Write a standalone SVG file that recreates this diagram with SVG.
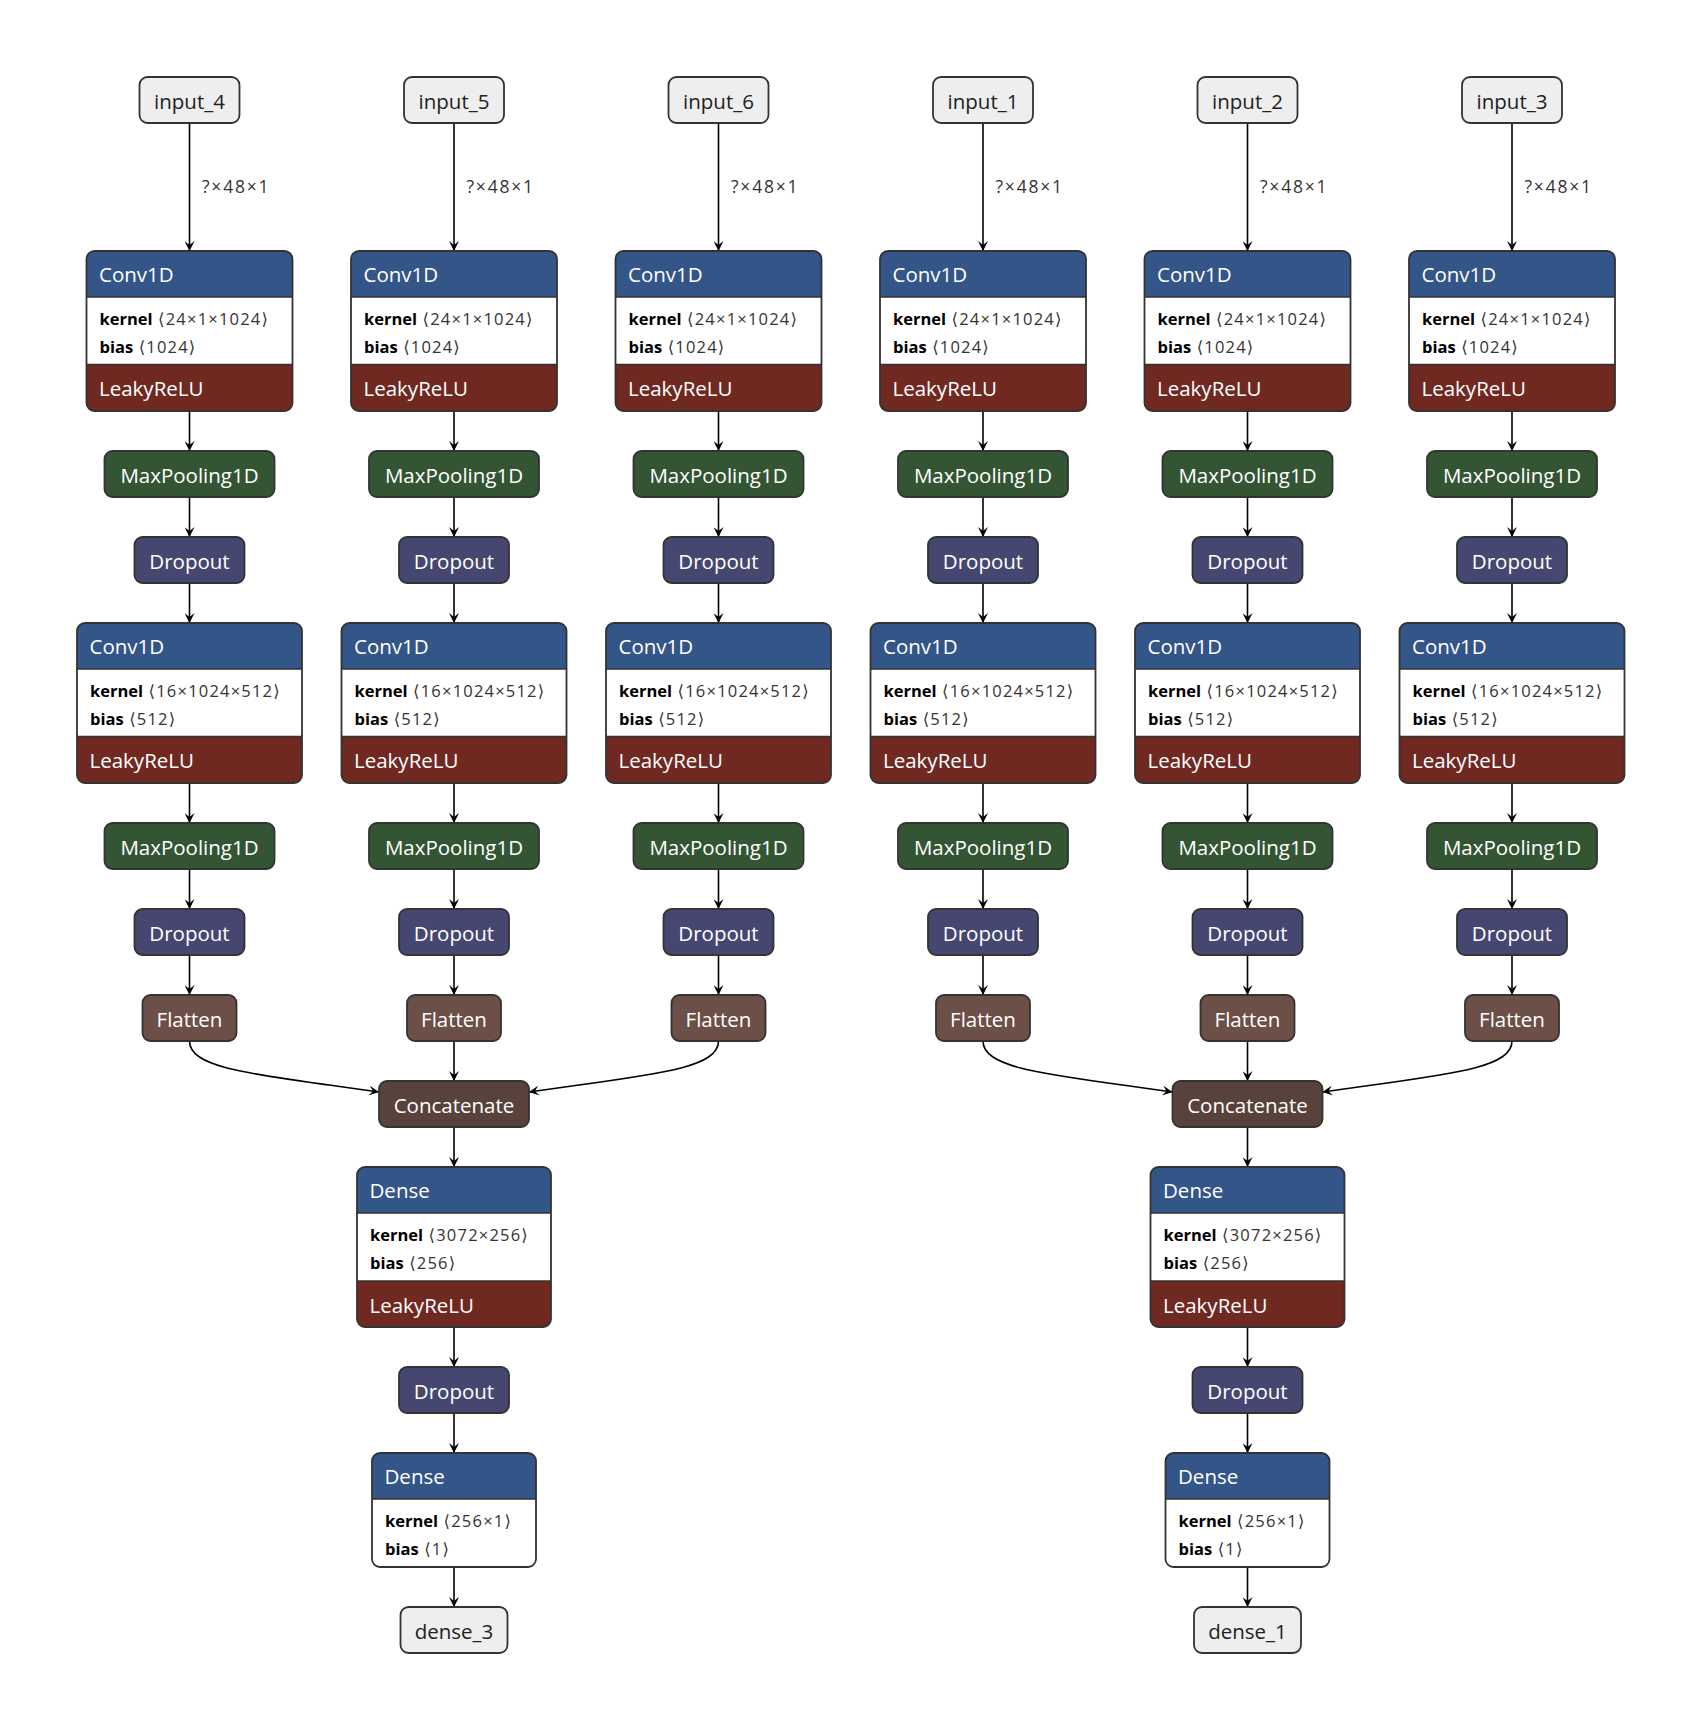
<svg xmlns="http://www.w3.org/2000/svg" width="1702" height="1732" viewBox="0 0 1702 1732">
<defs>
<style>
.box{stroke:#333;stroke-width:1.8}
.io{fill:#eeeeee}
.layer{fill:#335588}
.act{fill:#702921}
.pool{fill:#335533}
.drop{fill:#454770}
.shape{fill:#6c4f47}
.tensor{fill:#59423b}
.white{fill:#ffffff}
.outline{fill:none;stroke:#333;stroke-width:1.8}
.sep{fill:none;stroke:#333;stroke-width:1.5}
.t{font-family:"Open Sans","Noto Sans","DejaVu Sans",sans-serif;font-size:20.5px;fill:#ffffff}
.ti{font-family:"Open Sans","Noto Sans","DejaVu Sans",sans-serif;font-size:20.5px;fill:#222222;text-anchor:middle}
.c{text-anchor:middle}
.a{font-family:"Open Sans","Noto Sans","DejaVu Sans",sans-serif;font-size:16.5px;fill:#333333}
.b{font-weight:bold;fill:#000000;letter-spacing:0}
.v{letter-spacing:1.2px}
.e{fill:none;stroke:#000;stroke-width:1.6;marker-end:url(#arr)}
.lbl{font-family:"Open Sans","Noto Sans","DejaVu Sans",sans-serif;font-size:17.5px;fill:#333333;letter-spacing:1.8px}
</style>
<marker id="arr" viewBox="0 0 10 10" refX="10" refY="5" markerWidth="10" markerHeight="10" markerUnits="userSpaceOnUse" orient="auto"><path d="M0,0 L10,5 L0,10 L4,5 z" fill="#000"/></marker>
</defs>
<rect width="1702" height="1732" fill="#ffffff"/>

<g id="edges">
<path class="e" d="M189.5,123V251"/><path class="e" d="M189.5,411V451"/><path class="e" d="M189.5,497V537"/><path class="e" d="M189.5,583V623"/><path class="e" d="M189.5,783V823"/><path class="e" d="M189.5,869V909"/><path class="e" d="M189.5,955V995"/>
<path class="e" d="M189.5,1041C189.5,1070 260,1075 379,1092"/>
<path class="e" d="M454,123V251"/><path class="e" d="M454,411V451"/><path class="e" d="M454,497V537"/><path class="e" d="M454,583V623"/><path class="e" d="M454,783V823"/><path class="e" d="M454,869V909"/><path class="e" d="M454,955V995"/>
<path class="e" d="M454,1041V1081"/>
<path class="e" d="M718.5,123V251"/><path class="e" d="M718.5,411V451"/><path class="e" d="M718.5,497V537"/><path class="e" d="M718.5,583V623"/><path class="e" d="M718.5,783V823"/><path class="e" d="M718.5,869V909"/><path class="e" d="M718.5,955V995"/>
<path class="e" d="M718.5,1041C718.5,1070 648,1075 529,1092"/>
<path class="e" d="M983,123V251"/><path class="e" d="M983,411V451"/><path class="e" d="M983,497V537"/><path class="e" d="M983,583V623"/><path class="e" d="M983,783V823"/><path class="e" d="M983,869V909"/><path class="e" d="M983,955V995"/>
<path class="e" d="M983,1041C983,1070 1053.5,1075 1172.5,1092"/>
<path class="e" d="M1247.5,123V251"/><path class="e" d="M1247.5,411V451"/><path class="e" d="M1247.5,497V537"/><path class="e" d="M1247.5,583V623"/><path class="e" d="M1247.5,783V823"/><path class="e" d="M1247.5,869V909"/><path class="e" d="M1247.5,955V995"/>
<path class="e" d="M1247.5,1041V1081"/>
<path class="e" d="M1512,123V251"/><path class="e" d="M1512,411V451"/><path class="e" d="M1512,497V537"/><path class="e" d="M1512,583V623"/><path class="e" d="M1512,783V823"/><path class="e" d="M1512,869V909"/><path class="e" d="M1512,955V995"/>
<path class="e" d="M1512,1041C1512,1070 1441.5,1075 1322.5,1092"/>
<path class="e" d="M454,1127V1167"/><path class="e" d="M454,1327V1367"/><path class="e" d="M454,1413V1453"/><path class="e" d="M454,1567V1607"/>
<path class="e" d="M1247.5,1127V1167"/><path class="e" d="M1247.5,1327V1367"/><path class="e" d="M1247.5,1413V1453"/><path class="e" d="M1247.5,1567V1607"/>
<text class="lbl" x="202" y="193">?×48×1</text>
<text class="lbl" x="466.5" y="193">?×48×1</text>
<text class="lbl" x="731" y="193">?×48×1</text>
<text class="lbl" x="995.5" y="193">?×48×1</text>
<text class="lbl" x="1260" y="193">?×48×1</text>
<text class="lbl" x="1524.5" y="193">?×48×1</text>
</g>

<g id="input_4" transform="translate(189.5,77)"><rect class="box io" x="-50" y="0" width="100" height="46" rx="8"/><text class="ti" x="0" y="31.5">input_4</text></g>
<g id="conv1d_a_1" transform="translate(189.5,251)">
<path class="layer" d="M-103,46V8a8,8 0 0 1 8,-8H95a8,8 0 0 1 8,8V46Z"/><rect class="white" x="-103" y="46" width="206" height="67.5"/><path class="act" d="M-103,113.5H103V152a8,8 0 0 1 -8,8H-95a8,8 0 0 1 -8,-8Z"/>
<rect class="outline" x="-103" y="0" width="206" height="160" rx="8"/><path class="sep" d="M-103,46H103M-103,113.5H103"/>
<text class="t" x="-90.5" y="31">Conv1D</text>
<text class="a" x="-90" y="73.5"><tspan class="b">kernel</tspan><tspan class="v"> ⟨24×1×1024⟩</tspan></text>
<text class="a" x="-90" y="101.5"><tspan class="b">bias</tspan><tspan class="v"> ⟨1024⟩</tspan></text>
<text class="t" x="-90.5" y="145">LeakyReLU</text>
</g>
<g id="maxpool_a_1" transform="translate(189.5,451)"><rect class="box pool" x="-85" y="0" width="170" height="46" rx="8"/><text class="t c" x="0" y="31.5">MaxPooling1D</text></g>
<g id="dropout_a_1" transform="translate(189.5,537)"><rect class="box drop" x="-55" y="0" width="110" height="46" rx="8"/><text class="t c" x="0" y="31.5">Dropout</text></g>
<g id="conv1d_b_1" transform="translate(189.5,623)">
<path class="layer" d="M-112.5,46V8a8,8 0 0 1 8,-8H104.5a8,8 0 0 1 8,8V46Z"/><rect class="white" x="-112.5" y="46" width="225" height="67.5"/><path class="act" d="M-112.5,113.5H112.5V152a8,8 0 0 1 -8,8H-104.5a8,8 0 0 1 -8,-8Z"/>
<rect class="outline" x="-112.5" y="0" width="225" height="160" rx="8"/><path class="sep" d="M-112.5,46H112.5M-112.5,113.5H112.5"/>
<text class="t" x="-100" y="31">Conv1D</text>
<text class="a" x="-99.5" y="73.5"><tspan class="b">kernel</tspan><tspan class="v"> ⟨16×1024×512⟩</tspan></text>
<text class="a" x="-99.5" y="101.5"><tspan class="b">bias</tspan><tspan class="v"> ⟨512⟩</tspan></text>
<text class="t" x="-100" y="145">LeakyReLU</text>
</g>
<g id="maxpool_b_1" transform="translate(189.5,823)"><rect class="box pool" x="-85" y="0" width="170" height="46" rx="8"/><text class="t c" x="0" y="31.5">MaxPooling1D</text></g>
<g id="dropout_b_1" transform="translate(189.5,909)"><rect class="box drop" x="-55" y="0" width="110" height="46" rx="8"/><text class="t c" x="0" y="31.5">Dropout</text></g>
<g id="flatten_1" transform="translate(189.5,995)"><rect class="box shape" x="-47" y="0" width="94" height="46" rx="8"/><text class="t c" x="0" y="31.5">Flatten</text></g>

<g id="input_5" transform="translate(454,77)"><rect class="box io" x="-50" y="0" width="100" height="46" rx="8"/><text class="ti" x="0" y="31.5">input_5</text></g>
<g id="conv1d_a_2" transform="translate(454,251)">
<path class="layer" d="M-103,46V8a8,8 0 0 1 8,-8H95a8,8 0 0 1 8,8V46Z"/><rect class="white" x="-103" y="46" width="206" height="67.5"/><path class="act" d="M-103,113.5H103V152a8,8 0 0 1 -8,8H-95a8,8 0 0 1 -8,-8Z"/>
<rect class="outline" x="-103" y="0" width="206" height="160" rx="8"/><path class="sep" d="M-103,46H103M-103,113.5H103"/>
<text class="t" x="-90.5" y="31">Conv1D</text>
<text class="a" x="-90" y="73.5"><tspan class="b">kernel</tspan><tspan class="v"> ⟨24×1×1024⟩</tspan></text>
<text class="a" x="-90" y="101.5"><tspan class="b">bias</tspan><tspan class="v"> ⟨1024⟩</tspan></text>
<text class="t" x="-90.5" y="145">LeakyReLU</text>
</g>
<g id="maxpool_a_2" transform="translate(454,451)"><rect class="box pool" x="-85" y="0" width="170" height="46" rx="8"/><text class="t c" x="0" y="31.5">MaxPooling1D</text></g>
<g id="dropout_a_2" transform="translate(454,537)"><rect class="box drop" x="-55" y="0" width="110" height="46" rx="8"/><text class="t c" x="0" y="31.5">Dropout</text></g>
<g id="conv1d_b_2" transform="translate(454,623)">
<path class="layer" d="M-112.5,46V8a8,8 0 0 1 8,-8H104.5a8,8 0 0 1 8,8V46Z"/><rect class="white" x="-112.5" y="46" width="225" height="67.5"/><path class="act" d="M-112.5,113.5H112.5V152a8,8 0 0 1 -8,8H-104.5a8,8 0 0 1 -8,-8Z"/>
<rect class="outline" x="-112.5" y="0" width="225" height="160" rx="8"/><path class="sep" d="M-112.5,46H112.5M-112.5,113.5H112.5"/>
<text class="t" x="-100" y="31">Conv1D</text>
<text class="a" x="-99.5" y="73.5"><tspan class="b">kernel</tspan><tspan class="v"> ⟨16×1024×512⟩</tspan></text>
<text class="a" x="-99.5" y="101.5"><tspan class="b">bias</tspan><tspan class="v"> ⟨512⟩</tspan></text>
<text class="t" x="-100" y="145">LeakyReLU</text>
</g>
<g id="maxpool_b_2" transform="translate(454,823)"><rect class="box pool" x="-85" y="0" width="170" height="46" rx="8"/><text class="t c" x="0" y="31.5">MaxPooling1D</text></g>
<g id="dropout_b_2" transform="translate(454,909)"><rect class="box drop" x="-55" y="0" width="110" height="46" rx="8"/><text class="t c" x="0" y="31.5">Dropout</text></g>
<g id="flatten_2" transform="translate(454,995)"><rect class="box shape" x="-47" y="0" width="94" height="46" rx="8"/><text class="t c" x="0" y="31.5">Flatten</text></g>

<g id="input_6" transform="translate(718.5,77)"><rect class="box io" x="-50" y="0" width="100" height="46" rx="8"/><text class="ti" x="0" y="31.5">input_6</text></g>
<g id="conv1d_a_3" transform="translate(718.5,251)">
<path class="layer" d="M-103,46V8a8,8 0 0 1 8,-8H95a8,8 0 0 1 8,8V46Z"/><rect class="white" x="-103" y="46" width="206" height="67.5"/><path class="act" d="M-103,113.5H103V152a8,8 0 0 1 -8,8H-95a8,8 0 0 1 -8,-8Z"/>
<rect class="outline" x="-103" y="0" width="206" height="160" rx="8"/><path class="sep" d="M-103,46H103M-103,113.5H103"/>
<text class="t" x="-90.5" y="31">Conv1D</text>
<text class="a" x="-90" y="73.5"><tspan class="b">kernel</tspan><tspan class="v"> ⟨24×1×1024⟩</tspan></text>
<text class="a" x="-90" y="101.5"><tspan class="b">bias</tspan><tspan class="v"> ⟨1024⟩</tspan></text>
<text class="t" x="-90.5" y="145">LeakyReLU</text>
</g>
<g id="maxpool_a_3" transform="translate(718.5,451)"><rect class="box pool" x="-85" y="0" width="170" height="46" rx="8"/><text class="t c" x="0" y="31.5">MaxPooling1D</text></g>
<g id="dropout_a_3" transform="translate(718.5,537)"><rect class="box drop" x="-55" y="0" width="110" height="46" rx="8"/><text class="t c" x="0" y="31.5">Dropout</text></g>
<g id="conv1d_b_3" transform="translate(718.5,623)">
<path class="layer" d="M-112.5,46V8a8,8 0 0 1 8,-8H104.5a8,8 0 0 1 8,8V46Z"/><rect class="white" x="-112.5" y="46" width="225" height="67.5"/><path class="act" d="M-112.5,113.5H112.5V152a8,8 0 0 1 -8,8H-104.5a8,8 0 0 1 -8,-8Z"/>
<rect class="outline" x="-112.5" y="0" width="225" height="160" rx="8"/><path class="sep" d="M-112.5,46H112.5M-112.5,113.5H112.5"/>
<text class="t" x="-100" y="31">Conv1D</text>
<text class="a" x="-99.5" y="73.5"><tspan class="b">kernel</tspan><tspan class="v"> ⟨16×1024×512⟩</tspan></text>
<text class="a" x="-99.5" y="101.5"><tspan class="b">bias</tspan><tspan class="v"> ⟨512⟩</tspan></text>
<text class="t" x="-100" y="145">LeakyReLU</text>
</g>
<g id="maxpool_b_3" transform="translate(718.5,823)"><rect class="box pool" x="-85" y="0" width="170" height="46" rx="8"/><text class="t c" x="0" y="31.5">MaxPooling1D</text></g>
<g id="dropout_b_3" transform="translate(718.5,909)"><rect class="box drop" x="-55" y="0" width="110" height="46" rx="8"/><text class="t c" x="0" y="31.5">Dropout</text></g>
<g id="flatten_3" transform="translate(718.5,995)"><rect class="box shape" x="-47" y="0" width="94" height="46" rx="8"/><text class="t c" x="0" y="31.5">Flatten</text></g>

<g id="input_1" transform="translate(983,77)"><rect class="box io" x="-50" y="0" width="100" height="46" rx="8"/><text class="ti" x="0" y="31.5">input_1</text></g>
<g id="conv1d_a_4" transform="translate(983,251)">
<path class="layer" d="M-103,46V8a8,8 0 0 1 8,-8H95a8,8 0 0 1 8,8V46Z"/><rect class="white" x="-103" y="46" width="206" height="67.5"/><path class="act" d="M-103,113.5H103V152a8,8 0 0 1 -8,8H-95a8,8 0 0 1 -8,-8Z"/>
<rect class="outline" x="-103" y="0" width="206" height="160" rx="8"/><path class="sep" d="M-103,46H103M-103,113.5H103"/>
<text class="t" x="-90.5" y="31">Conv1D</text>
<text class="a" x="-90" y="73.5"><tspan class="b">kernel</tspan><tspan class="v"> ⟨24×1×1024⟩</tspan></text>
<text class="a" x="-90" y="101.5"><tspan class="b">bias</tspan><tspan class="v"> ⟨1024⟩</tspan></text>
<text class="t" x="-90.5" y="145">LeakyReLU</text>
</g>
<g id="maxpool_a_4" transform="translate(983,451)"><rect class="box pool" x="-85" y="0" width="170" height="46" rx="8"/><text class="t c" x="0" y="31.5">MaxPooling1D</text></g>
<g id="dropout_a_4" transform="translate(983,537)"><rect class="box drop" x="-55" y="0" width="110" height="46" rx="8"/><text class="t c" x="0" y="31.5">Dropout</text></g>
<g id="conv1d_b_4" transform="translate(983,623)">
<path class="layer" d="M-112.5,46V8a8,8 0 0 1 8,-8H104.5a8,8 0 0 1 8,8V46Z"/><rect class="white" x="-112.5" y="46" width="225" height="67.5"/><path class="act" d="M-112.5,113.5H112.5V152a8,8 0 0 1 -8,8H-104.5a8,8 0 0 1 -8,-8Z"/>
<rect class="outline" x="-112.5" y="0" width="225" height="160" rx="8"/><path class="sep" d="M-112.5,46H112.5M-112.5,113.5H112.5"/>
<text class="t" x="-100" y="31">Conv1D</text>
<text class="a" x="-99.5" y="73.5"><tspan class="b">kernel</tspan><tspan class="v"> ⟨16×1024×512⟩</tspan></text>
<text class="a" x="-99.5" y="101.5"><tspan class="b">bias</tspan><tspan class="v"> ⟨512⟩</tspan></text>
<text class="t" x="-100" y="145">LeakyReLU</text>
</g>
<g id="maxpool_b_4" transform="translate(983,823)"><rect class="box pool" x="-85" y="0" width="170" height="46" rx="8"/><text class="t c" x="0" y="31.5">MaxPooling1D</text></g>
<g id="dropout_b_4" transform="translate(983,909)"><rect class="box drop" x="-55" y="0" width="110" height="46" rx="8"/><text class="t c" x="0" y="31.5">Dropout</text></g>
<g id="flatten_4" transform="translate(983,995)"><rect class="box shape" x="-47" y="0" width="94" height="46" rx="8"/><text class="t c" x="0" y="31.5">Flatten</text></g>

<g id="input_2" transform="translate(1247.5,77)"><rect class="box io" x="-50" y="0" width="100" height="46" rx="8"/><text class="ti" x="0" y="31.5">input_2</text></g>
<g id="conv1d_a_5" transform="translate(1247.5,251)">
<path class="layer" d="M-103,46V8a8,8 0 0 1 8,-8H95a8,8 0 0 1 8,8V46Z"/><rect class="white" x="-103" y="46" width="206" height="67.5"/><path class="act" d="M-103,113.5H103V152a8,8 0 0 1 -8,8H-95a8,8 0 0 1 -8,-8Z"/>
<rect class="outline" x="-103" y="0" width="206" height="160" rx="8"/><path class="sep" d="M-103,46H103M-103,113.5H103"/>
<text class="t" x="-90.5" y="31">Conv1D</text>
<text class="a" x="-90" y="73.5"><tspan class="b">kernel</tspan><tspan class="v"> ⟨24×1×1024⟩</tspan></text>
<text class="a" x="-90" y="101.5"><tspan class="b">bias</tspan><tspan class="v"> ⟨1024⟩</tspan></text>
<text class="t" x="-90.5" y="145">LeakyReLU</text>
</g>
<g id="maxpool_a_5" transform="translate(1247.5,451)"><rect class="box pool" x="-85" y="0" width="170" height="46" rx="8"/><text class="t c" x="0" y="31.5">MaxPooling1D</text></g>
<g id="dropout_a_5" transform="translate(1247.5,537)"><rect class="box drop" x="-55" y="0" width="110" height="46" rx="8"/><text class="t c" x="0" y="31.5">Dropout</text></g>
<g id="conv1d_b_5" transform="translate(1247.5,623)">
<path class="layer" d="M-112.5,46V8a8,8 0 0 1 8,-8H104.5a8,8 0 0 1 8,8V46Z"/><rect class="white" x="-112.5" y="46" width="225" height="67.5"/><path class="act" d="M-112.5,113.5H112.5V152a8,8 0 0 1 -8,8H-104.5a8,8 0 0 1 -8,-8Z"/>
<rect class="outline" x="-112.5" y="0" width="225" height="160" rx="8"/><path class="sep" d="M-112.5,46H112.5M-112.5,113.5H112.5"/>
<text class="t" x="-100" y="31">Conv1D</text>
<text class="a" x="-99.5" y="73.5"><tspan class="b">kernel</tspan><tspan class="v"> ⟨16×1024×512⟩</tspan></text>
<text class="a" x="-99.5" y="101.5"><tspan class="b">bias</tspan><tspan class="v"> ⟨512⟩</tspan></text>
<text class="t" x="-100" y="145">LeakyReLU</text>
</g>
<g id="maxpool_b_5" transform="translate(1247.5,823)"><rect class="box pool" x="-85" y="0" width="170" height="46" rx="8"/><text class="t c" x="0" y="31.5">MaxPooling1D</text></g>
<g id="dropout_b_5" transform="translate(1247.5,909)"><rect class="box drop" x="-55" y="0" width="110" height="46" rx="8"/><text class="t c" x="0" y="31.5">Dropout</text></g>
<g id="flatten_5" transform="translate(1247.5,995)"><rect class="box shape" x="-47" y="0" width="94" height="46" rx="8"/><text class="t c" x="0" y="31.5">Flatten</text></g>

<g id="input_3" transform="translate(1512,77)"><rect class="box io" x="-50" y="0" width="100" height="46" rx="8"/><text class="ti" x="0" y="31.5">input_3</text></g>
<g id="conv1d_a_6" transform="translate(1512,251)">
<path class="layer" d="M-103,46V8a8,8 0 0 1 8,-8H95a8,8 0 0 1 8,8V46Z"/><rect class="white" x="-103" y="46" width="206" height="67.5"/><path class="act" d="M-103,113.5H103V152a8,8 0 0 1 -8,8H-95a8,8 0 0 1 -8,-8Z"/>
<rect class="outline" x="-103" y="0" width="206" height="160" rx="8"/><path class="sep" d="M-103,46H103M-103,113.5H103"/>
<text class="t" x="-90.5" y="31">Conv1D</text>
<text class="a" x="-90" y="73.5"><tspan class="b">kernel</tspan><tspan class="v"> ⟨24×1×1024⟩</tspan></text>
<text class="a" x="-90" y="101.5"><tspan class="b">bias</tspan><tspan class="v"> ⟨1024⟩</tspan></text>
<text class="t" x="-90.5" y="145">LeakyReLU</text>
</g>
<g id="maxpool_a_6" transform="translate(1512,451)"><rect class="box pool" x="-85" y="0" width="170" height="46" rx="8"/><text class="t c" x="0" y="31.5">MaxPooling1D</text></g>
<g id="dropout_a_6" transform="translate(1512,537)"><rect class="box drop" x="-55" y="0" width="110" height="46" rx="8"/><text class="t c" x="0" y="31.5">Dropout</text></g>
<g id="conv1d_b_6" transform="translate(1512,623)">
<path class="layer" d="M-112.5,46V8a8,8 0 0 1 8,-8H104.5a8,8 0 0 1 8,8V46Z"/><rect class="white" x="-112.5" y="46" width="225" height="67.5"/><path class="act" d="M-112.5,113.5H112.5V152a8,8 0 0 1 -8,8H-104.5a8,8 0 0 1 -8,-8Z"/>
<rect class="outline" x="-112.5" y="0" width="225" height="160" rx="8"/><path class="sep" d="M-112.5,46H112.5M-112.5,113.5H112.5"/>
<text class="t" x="-100" y="31">Conv1D</text>
<text class="a" x="-99.5" y="73.5"><tspan class="b">kernel</tspan><tspan class="v"> ⟨16×1024×512⟩</tspan></text>
<text class="a" x="-99.5" y="101.5"><tspan class="b">bias</tspan><tspan class="v"> ⟨512⟩</tspan></text>
<text class="t" x="-100" y="145">LeakyReLU</text>
</g>
<g id="maxpool_b_6" transform="translate(1512,823)"><rect class="box pool" x="-85" y="0" width="170" height="46" rx="8"/><text class="t c" x="0" y="31.5">MaxPooling1D</text></g>
<g id="dropout_b_6" transform="translate(1512,909)"><rect class="box drop" x="-55" y="0" width="110" height="46" rx="8"/><text class="t c" x="0" y="31.5">Dropout</text></g>
<g id="flatten_6" transform="translate(1512,995)"><rect class="box shape" x="-47" y="0" width="94" height="46" rx="8"/><text class="t c" x="0" y="31.5">Flatten</text></g>

<g id="concat_L" transform="translate(454,1081)"><rect class="box tensor" x="-75" y="0" width="150" height="46" rx="8"/><text class="t c" x="0" y="31.5">Concatenate</text></g>
<g id="dense_a_L" transform="translate(454,1167)">
<path class="layer" d="M-97,46V8a8,8 0 0 1 8,-8H89a8,8 0 0 1 8,8V46Z"/><rect class="white" x="-97" y="46" width="194" height="68"/><path class="act" d="M-97,114H97V152a8,8 0 0 1 -8,8H-89a8,8 0 0 1 -8,-8Z"/>
<rect class="outline" x="-97" y="0" width="194" height="160" rx="8"/><path class="sep" d="M-97,46H97M-97,114H97"/>
<text class="t" x="-84.5" y="31">Dense</text>
<text class="a" x="-84" y="73.5"><tspan class="b">kernel</tspan><tspan class="v"> ⟨3072×256⟩</tspan></text>
<text class="a" x="-84" y="101.5"><tspan class="b">bias</tspan><tspan class="v"> ⟨256⟩</tspan></text>
<text class="t" x="-84.5" y="145.5">LeakyReLU</text>
</g>
<g id="dropout_c_L" transform="translate(454,1367)"><rect class="box drop" x="-55" y="0" width="110" height="46" rx="8"/><text class="t c" x="0" y="31.5">Dropout</text></g>
<g id="dense_b_L" transform="translate(454,1453)">
<path class="layer" d="M-82,46V8a8,8 0 0 1 8,-8H74a8,8 0 0 1 8,8V46Z"/><path class="white" d="M-82,46H82V106a8,8 0 0 1 -8,8H-74a8,8 0 0 1 -8,-8Z"/>
<rect class="outline" x="-82" y="0" width="164" height="114" rx="8"/><path class="sep" d="M-82,46H82"/>
<text class="t" x="-69.5" y="31">Dense</text>
<text class="a" x="-69" y="73.5"><tspan class="b">kernel</tspan><tspan class="v"> ⟨256×1⟩</tspan></text>
<text class="a" x="-69" y="101.5"><tspan class="b">bias</tspan><tspan class="v"> ⟨1⟩</tspan></text>
</g>
<g id="dense_3" transform="translate(454,1607)"><rect class="box io" x="-53.5" y="0" width="107" height="46" rx="8"/><text class="ti" x="0" y="31.5">dense_3</text></g>

<g id="concat_R" transform="translate(1247.5,1081)"><rect class="box tensor" x="-75" y="0" width="150" height="46" rx="8"/><text class="t c" x="0" y="31.5">Concatenate</text></g>
<g id="dense_a_R" transform="translate(1247.5,1167)">
<path class="layer" d="M-97,46V8a8,8 0 0 1 8,-8H89a8,8 0 0 1 8,8V46Z"/><rect class="white" x="-97" y="46" width="194" height="68"/><path class="act" d="M-97,114H97V152a8,8 0 0 1 -8,8H-89a8,8 0 0 1 -8,-8Z"/>
<rect class="outline" x="-97" y="0" width="194" height="160" rx="8"/><path class="sep" d="M-97,46H97M-97,114H97"/>
<text class="t" x="-84.5" y="31">Dense</text>
<text class="a" x="-84" y="73.5"><tspan class="b">kernel</tspan><tspan class="v"> ⟨3072×256⟩</tspan></text>
<text class="a" x="-84" y="101.5"><tspan class="b">bias</tspan><tspan class="v"> ⟨256⟩</tspan></text>
<text class="t" x="-84.5" y="145.5">LeakyReLU</text>
</g>
<g id="dropout_c_R" transform="translate(1247.5,1367)"><rect class="box drop" x="-55" y="0" width="110" height="46" rx="8"/><text class="t c" x="0" y="31.5">Dropout</text></g>
<g id="dense_b_R" transform="translate(1247.5,1453)">
<path class="layer" d="M-82,46V8a8,8 0 0 1 8,-8H74a8,8 0 0 1 8,8V46Z"/><path class="white" d="M-82,46H82V106a8,8 0 0 1 -8,8H-74a8,8 0 0 1 -8,-8Z"/>
<rect class="outline" x="-82" y="0" width="164" height="114" rx="8"/><path class="sep" d="M-82,46H82"/>
<text class="t" x="-69.5" y="31">Dense</text>
<text class="a" x="-69" y="73.5"><tspan class="b">kernel</tspan><tspan class="v"> ⟨256×1⟩</tspan></text>
<text class="a" x="-69" y="101.5"><tspan class="b">bias</tspan><tspan class="v"> ⟨1⟩</tspan></text>
</g>
<g id="dense_1" transform="translate(1247.5,1607)"><rect class="box io" x="-53.5" y="0" width="107" height="46" rx="8"/><text class="ti" x="0" y="31.5">dense_1</text></g>
</svg>
